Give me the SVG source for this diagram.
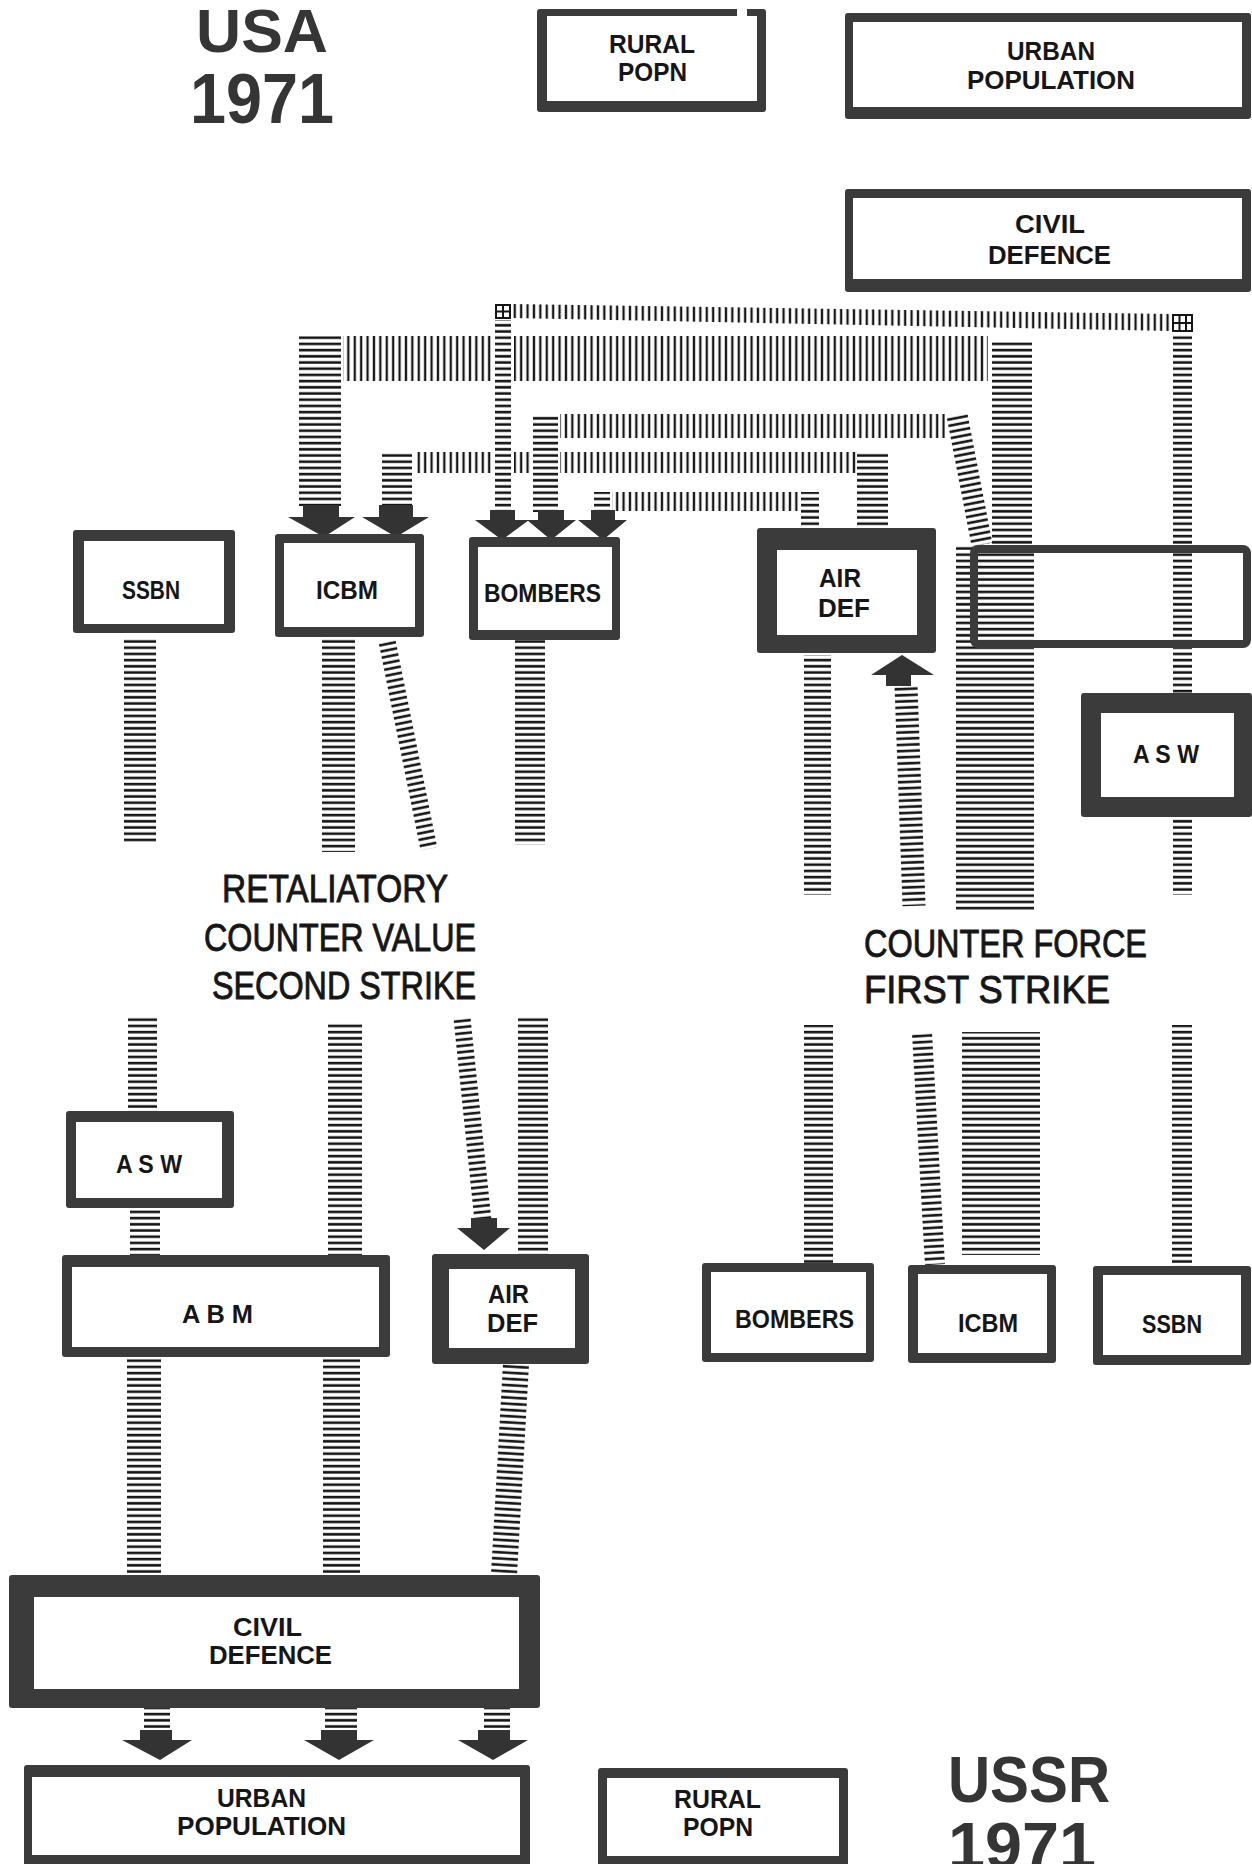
<svg xmlns="http://www.w3.org/2000/svg" width="1252" height="1864" viewBox="0 0 1252 1864">
<defs>
<pattern id="hh" patternUnits="userSpaceOnUse" width="10" height="6.2"><rect y="1.6" width="10" height="2.6" fill="#151515"/></pattern>
<pattern id="vv" patternUnits="userSpaceOnUse" width="6.4" height="10"><rect x="1.6" width="2.3" height="10" fill="#151515"/></pattern>
<style>
.bd{fill:#3b3b3b}
.in{fill:#ffffff}
.hb{fill:url(#hh)}
.vb{fill:url(#vv)}
.ar{fill:#333333}
.bx{font-family:"Liberation Sans",Arial,sans-serif;font-weight:700;font-size:25px;fill:#161616}
.lb{font-family:"Liberation Sans",Arial,sans-serif;font-size:39px;fill:#161616;stroke:#161616;stroke-width:0.9}
.ti{font-family:"Liberation Sans",Arial,sans-serif;font-weight:700;fill:#353535}
.grid{fill:#fff;stroke:#151515;stroke-width:2}
</style>
</defs>
<rect width="1252" height="1864" fill="#ffffff"/>

<g id="titles">
<text class="ti" x="196" y="52" font-size="61" textLength="132" lengthAdjust="spacingAndGlyphs">USA</text>
<text class="ti" x="190" y="123" font-size="71" textLength="144" lengthAdjust="spacingAndGlyphs">1971</text>
<text class="ti" x="948" y="1802" font-size="65" textLength="162" lengthAdjust="spacingAndGlyphs">USSR</text>
<text class="ti" x="948" y="1868" font-size="65" textLength="148" lengthAdjust="spacingAndGlyphs">1971</text>
</g>

<g id="labels">
<text class="lb" x="222" y="902" textLength="226" lengthAdjust="spacingAndGlyphs">RETALIATORY</text>
<text class="lb" x="204" y="951" textLength="272" lengthAdjust="spacingAndGlyphs">COUNTER VALUE</text>
<text class="lb" x="212" y="999" textLength="264" lengthAdjust="spacingAndGlyphs">SECOND STRIKE</text>
<text class="lb" x="864" y="957" textLength="283" lengthAdjust="spacingAndGlyphs">COUNTER  FORCE</text>
<text class="lb" x="864" y="1003" textLength="246" lengthAdjust="spacingAndGlyphs">FIRST  STRIKE</text>
</g>

<g id="connectors">
<polygon class="vb" points="511,304 1172,314 1172,331 511,318"/>
<g><rect class="grid" x="496" y="305" width="14" height="13"/><line x1="503" y1="305" x2="503" y2="318" stroke="#151515" stroke-width="2"/><line x1="496" y1="311.5" x2="510" y2="311.5" stroke="#151515" stroke-width="2"/></g>
<g><rect class="grid" x="1173" y="315" width="19" height="16"/><line x1="1179.5" y1="315" x2="1179.5" y2="331" stroke="#151515" stroke-width="2"/><line x1="1186" y1="315" x2="1186" y2="331" stroke="#151515" stroke-width="2"/><line x1="1173" y1="323" x2="1192" y2="323" stroke="#151515" stroke-width="2"/></g>
<rect class="hb" x="495" y="320" width="16" height="192"/>
<rect class="hb" x="299" y="336" width="42" height="170"/>
<rect class="vb" x="343" y="336" width="150" height="45"/>
<rect class="vb" x="514" y="336" width="474" height="45"/>
<rect class="hb" x="992" y="340" width="40" height="205"/>
<rect class="hb" x="533" y="414" width="25" height="98"/>
<rect class="vb" x="560" y="414" width="385" height="24"/>
<g transform="translate(957,415) rotate(-10.9)"><rect class="hb" x="-10.5" y="0" width="21" height="132"/></g>
<rect class="hb" x="382" y="452" width="30" height="54"/>
<rect class="vb" x="414" y="452" width="79" height="21"/>
<rect class="vb" x="514" y="452" width="18" height="21"/>
<rect class="vb" x="560" y="452" width="296" height="21"/>
<rect class="hb" x="857" y="452" width="31" height="78"/>
<rect class="hb" x="594" y="492" width="16" height="20"/>
<rect class="vb" x="612" y="492" width="188" height="19"/>
<rect class="hb" x="801" y="492" width="18" height="38"/>
<rect class="hb" x="956" y="545" width="78" height="365"/>
<rect class="hb" x="1173" y="333" width="19" height="360"/>
<rect class="hb" x="1173" y="819" width="19" height="76"/>
<rect class="hb" x="124" y="638" width="32" height="204"/>
<rect class="hb" x="322" y="638" width="33" height="214"/>
<g transform="translate(387,641) rotate(-11.4)"><rect class="hb" x="-8.5" y="0" width="17" height="212"/></g>
<rect class="hb" x="515" y="640" width="30" height="205"/>
<rect class="hb" x="804" y="655" width="27" height="240"/>
<g transform="translate(906,686) rotate(-2.1)"><rect class="hb" x="-11.5" y="0" width="23" height="220"/></g>
<polygon class="ar" points="303,505 339,505 339,517 355,517 324,537 288,517 303,517"/>
<polygon class="ar" points="379,505 413,505 413,517 429,517 396,537 362,517 379,517"/>
<polygon class="ar" points="490,510 515,510 515,520 529,520 502,540 475,520 490,520"/>
<polygon class="ar" points="538,510 564,510 564,520 576,520 551,540 527,520 538,520"/>
<polygon class="ar" points="591,510 615,510 615,520 627,520 603,540 578,520 591,520"/>
<polygon class="ar" points="902,655 934,675 911,675 911,686 886,686 886,675 871,675"/>
<rect class="hb" x="128" y="1017" width="29" height="94"/>
<rect class="hb" x="130" y="1208" width="30" height="47"/>
<rect class="hb" x="328" y="1022" width="34" height="233"/>
<g transform="translate(462,1018) rotate(-5.9)"><rect class="hb" x="-8.5" y="0" width="17" height="204"/></g>
<polygon class="ar" points="471,1218 497,1218 497,1228 510,1228 484,1250 457,1228 471,1228"/>
<rect class="hb" x="518" y="1017" width="30" height="237"/>
<rect class="hb" x="127" y="1357" width="34" height="218"/>
<rect class="hb" x="323" y="1357" width="37" height="218"/>
<g transform="translate(516,1364) rotate(3.26)"><rect class="hb" x="-13" y="0" width="26" height="211"/></g>
<rect class="hb" x="144" y="1708" width="26" height="23"/>
<rect class="hb" x="325" y="1708" width="32" height="23"/>
<rect class="hb" x="484" y="1708" width="26" height="23"/>
<polygon class="ar" points="140,1730 172,1730 172,1740 192,1740 160,1760 122,1740 140,1740"/>
<polygon class="ar" points="321,1730 357,1730 357,1740 374,1740 339,1760 304,1740 321,1740"/>
<polygon class="ar" points="478,1730 510,1730 510,1740 528,1740 493,1760 458,1740 478,1740"/>
<rect class="hb" x="804" y="1025" width="29" height="238"/>
<g transform="translate(922,1033) rotate(-3.2)"><rect class="hb" x="-10" y="0" width="20" height="232"/></g>
<rect class="hb" x="962" y="1032" width="78" height="223"/>
<rect class="hb" x="1172" y="1025" width="20" height="241"/>
</g>

<g id="rural-popn-usa"><rect class="bd" x="537" y="9" width="229" height="103" rx="3"/><rect class="in" x="547" y="16" width="210" height="85"/><rect x="737" y="8" width="10" height="9" fill="#fff"/>
<text class="bx" x="609" y="53" textLength="86" lengthAdjust="spacingAndGlyphs">RURAL</text>
<text class="bx" x="618" y="81" textLength="69" lengthAdjust="spacingAndGlyphs">POPN</text></g>

<g id="urban-population-usa"><rect class="bd" x="845" y="13" width="406" height="106" rx="3"/><rect class="in" x="853" y="22" width="389" height="85"/>
<text class="bx" x="1007" y="60" textLength="88" lengthAdjust="spacingAndGlyphs">URBAN</text>
<text class="bx" x="967" y="89" textLength="168" lengthAdjust="spacingAndGlyphs">POPULATION</text></g>

<g id="civil-defence-usa"><rect class="bd" x="845" y="189" width="406" height="103" rx="3"/><rect class="in" x="853" y="198" width="389" height="81"/>
<text class="bx" x="1015" y="233" textLength="70" lengthAdjust="spacingAndGlyphs">CIVIL</text>
<text class="bx" x="988" y="264" textLength="123" lengthAdjust="spacingAndGlyphs">DEFENCE</text></g>

<g id="ssbn-top"><rect class="bd" x="73" y="530" width="162" height="103" rx="3"/><rect class="in" x="84" y="541" width="140" height="83"/>
<text class="bx" x="122" y="599" textLength="58" lengthAdjust="spacingAndGlyphs">SSBN</text></g>

<g id="icbm-top"><rect class="bd" x="275" y="534" width="149" height="103" rx="3"/><rect class="in" x="284" y="543" width="131" height="84"/>
<text class="bx" x="316" y="599" textLength="62" lengthAdjust="spacingAndGlyphs">ICBM</text></g>

<g id="bombers-top"><rect class="bd" x="469" y="537" width="151" height="103" rx="3"/><rect class="in" x="478" y="547" width="134" height="83"/>
<text class="bx" x="484" y="602" textLength="117" lengthAdjust="spacingAndGlyphs">BOMBERS</text></g>

<g id="air-def-top"><rect class="bd" x="757" y="528" width="179" height="125" rx="3"/><rect class="in" x="777" y="550" width="140" height="85"/>
<text class="bx" x="819" y="587" textLength="42" lengthAdjust="spacingAndGlyphs">AIR</text>
<text class="bx" x="818" y="617" textLength="52" lengthAdjust="spacingAndGlyphs">DEF</text></g>

<g id="unlabeled-box"><rect x="974" y="549" width="273" height="95" rx="4" fill="none" stroke="#3b3b3b" stroke-width="8"/></g>

<g id="asw-top"><rect class="bd" x="1081" y="693" width="171" height="124" rx="3"/><rect class="in" x="1101" y="713" width="133" height="84"/>
<text class="bx" x="1133" y="763" textLength="66" lengthAdjust="spacingAndGlyphs">A S W</text></g>

<g id="asw-bottom"><rect class="bd" x="66" y="1111" width="168" height="97" rx="3"/><rect class="in" x="76" y="1122" width="146" height="76"/>
<text class="bx" x="116" y="1173" textLength="66" lengthAdjust="spacingAndGlyphs">A S W</text></g>

<g id="abm"><rect class="bd" x="62" y="1255" width="328" height="102" rx="3"/><rect class="in" x="72" y="1267" width="307" height="80"/>
<text class="bx" x="182" y="1323" textLength="71" lengthAdjust="spacingAndGlyphs">A B M</text></g>

<g id="air-def-bottom"><rect class="bd" x="432" y="1254" width="157" height="110" rx="3"/><rect class="in" x="449" y="1269" width="126" height="79"/>
<text class="bx" x="488" y="1303" textLength="41" lengthAdjust="spacingAndGlyphs">AIR</text>
<text class="bx" x="487" y="1332" textLength="51" lengthAdjust="spacingAndGlyphs">DEF</text></g>

<g id="bombers-bottom"><rect class="bd" x="702" y="1263" width="172" height="99" rx="3"/><rect class="in" x="711" y="1272" width="155" height="81"/>
<text class="bx" x="735" y="1328" textLength="119" lengthAdjust="spacingAndGlyphs">BOMBERS</text></g>

<g id="icbm-bottom"><rect class="bd" x="908" y="1265" width="148" height="98" rx="3"/><rect class="in" x="918" y="1274" width="129" height="79"/>
<text class="bx" x="958" y="1332" textLength="60" lengthAdjust="spacingAndGlyphs">ICBM</text></g>

<g id="ssbn-bottom"><rect class="bd" x="1093" y="1266" width="158" height="99" rx="3"/><rect class="in" x="1103" y="1275" width="138" height="80"/>
<text class="bx" x="1142" y="1333" textLength="60" lengthAdjust="spacingAndGlyphs">SSBN</text></g>

<g id="civil-defence-ussr"><rect class="bd" x="9" y="1575" width="531" height="133" rx="3"/><rect class="in" x="34" y="1597" width="485" height="92"/>
<text class="bx" x="233" y="1636" textLength="69" lengthAdjust="spacingAndGlyphs">CIVIL</text>
<text class="bx" x="209" y="1664" textLength="123" lengthAdjust="spacingAndGlyphs">DEFENCE</text></g>

<g id="urban-population-ussr"><rect class="bd" x="24" y="1765" width="506" height="103" rx="3"/><rect class="in" x="32" y="1777" width="488" height="78"/>
<text class="bx" x="217" y="1807" textLength="89" lengthAdjust="spacingAndGlyphs">URBAN</text>
<text class="bx" x="177" y="1835" textLength="169" lengthAdjust="spacingAndGlyphs">POPULATION</text></g>

<g id="rural-popn-ussr"><rect class="bd" x="598" y="1768" width="250" height="100" rx="3"/><rect class="in" x="607" y="1778" width="232" height="78"/>
<text class="bx" x="674" y="1808" textLength="87" lengthAdjust="spacingAndGlyphs">RURAL</text>
<text class="bx" x="683" y="1836" textLength="70" lengthAdjust="spacingAndGlyphs">POPN</text></g>
</svg>
